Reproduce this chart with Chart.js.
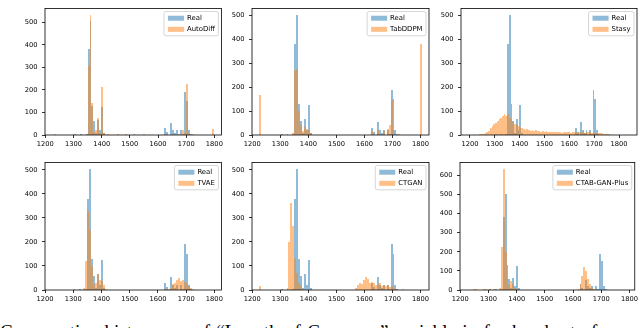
<!DOCTYPE html>
<html>
<head>
<meta charset="utf-8">
<script src="https://cdn.jsdelivr.net/npm/chart.js@4.4.1/dist/chart.umd.min.js"></script>
<style>
html,body{margin:0;padding:0;background:#fff;width:640px;height:328px;overflow:hidden;position:relative}
canvas{position:absolute}
#caption{position:absolute;left:0;top:322px;font-family:"Liberation Serif","Times New Roman",serif;font-size:19px;line-height:19px;word-spacing:1.6px;white-space:nowrap;color:#000}
</style>
</head>
<body>
<canvas id="c1"></canvas>
<canvas id="c2"></canvas>
<canvas id="c3"></canvas>
<canvas id="c4"></canvas>
<canvas id="c5"></canvas>
<canvas id="c6"></canvas>
<div id="caption">Comparative histograms of “Length of Coverage” variable in fresh subset of</div>
<script>
// ---------------- data (histogram bins: [bin left edge, count]) ----------------
const BIN_START = 1196, BIN_WIDTH = 7, BIN_COUNT = 92;

const realHist = [[1231,2],[1301,3],[1322,3],[1343,6],[1350,380],[1357,505],[1364,130],[1371,60],[1378,10],[1385,65],[1392,20],[1399,125],[1406,8],
  [1623,30],[1630,12],[1644,55],[1651,22],[1658,10],[1665,22],[1679,20],[1686,5],[1693,190],[1700,150],[1707,20],[1714,5]];

const autoDiffHist = [[1231,3],[1287,2],[1343,5],[1350,305],[1357,535],[1364,140],[1371,12],[1378,20],[1385,75],[1392,8],[1399,215],[1406,10],
  [1420,3],[1434,2],[1455,4],[1469,2],[1483,3],[1497,2],[1511,4],[1525,2],[1546,3],[1560,2],
  [1623,3],[1651,4],[1672,5],[1686,20],[1693,10],[1700,228],[1707,10],[1721,3],[1791,28]];

const tabDDPMHist = [[1224,167],[1343,10],[1350,270],[1357,275],[1364,100],[1371,40],[1378,15],[1385,35],[1392,25],[1399,20],[1406,8],
  [1623,15],[1644,20],[1665,15],[1679,25],[1686,40],[1693,145],[1700,20],[1721,5],[1798,383]];

const stasyHist = [[1231,2],[1238,3],[1245,4],[1252,6],[1259,9],[1266,14],[1273,18],[1280,28],[1287,38],[1294,45],[1301,52],[1308,58],
  [1315,66],[1322,72],[1329,80],[1336,86],[1343,78],[1350,88],[1357,72],[1364,65],[1371,55],[1378,48],[1385,42],[1392,38],[1399,32],
  [1406,30],[1413,26],[1420,22],[1427,24],[1434,20],[1441,18],[1448,21],[1455,17],[1462,19],[1469,15],[1476,18],[1483,14],[1490,16],
  [1497,13],[1504,15],[1511,12],[1518,14],[1525,11],[1532,13],[1539,12],[1546,14],[1553,11],[1560,13],[1567,10],[1574,12],[1581,13],
  [1588,11],[1595,12],[1602,10],[1609,13],[1616,11],[1623,12],[1630,10],[1637,12],[1644,11],[1651,13],[1658,10],[1665,12],[1672,11],
  [1679,13],[1686,10],[1693,12],[1700,9],[1707,10],[1714,8],[1721,7],[1728,8],[1735,6],[1742,5],[1749,4],[1756,3],[1763,2],[1770,2],
  [1784,1],[1805,1],[1819,2]];

const tvaeHist = [[1336,10],[1343,120],[1350,330],[1357,250],[1364,100],[1371,25],[1378,30],[1385,68],[1392,42],[1399,38],[1406,20],[1413,5],
  [1623,3],[1637,5],[1644,10],[1651,25],[1658,30],[1665,40],[1672,50],[1679,38],[1686,42],[1693,35],[1700,30],[1707,15],[1714,10],[1721,3]];

const ctganHist = [[1224,15],[1322,10],[1329,200],[1336,360],[1343,265],[1350,135],[1357,70],[1364,30],[1371,15],[1378,5],
  [1567,8],[1574,22],[1581,30],[1588,25],[1595,40],[1602,52],[1609,45],[1616,30],[1623,35],[1630,28],[1637,20],[1644,25],[1651,30],
  [1658,18],[1665,22],[1672,15],[1679,20],[1686,12],[1693,15],[1700,8],[1707,5],[1714,3],[1735,3]];

const ctabGanPlusHist = [[1245,4],[1252,3],[1280,5],[1287,4],[1301,3],[1315,3],[1336,10],[1343,227],[1350,636],[1357,200],[1364,60],[1371,25],
  [1378,45],[1385,30],[1392,10],[1399,5],[1616,5],[1623,30],[1630,75],[1637,120],[1644,100],[1651,60],[1658,30],[1665,12],[1672,5]];

const methodNames = ['AutoDiff','TabDDPM','Stasy','TVAE','CTGAN','CTAB-GAN-Plus'];
const methodHists = [autoDiffHist, tabDDPMHist, stasyHist, tvaeHist, ctganHist, ctabGanPlusHist];
const xTicks = [1200,1300,1400,1500,1600,1700,1800];
const yTicks500 = [0,100,200,300,400,500];
const yTicks600 = [0,100,200,300,400,500,600];
const panelYTicks = [yTicks500,yTicks500,yTicks500,yTicks500,yTicks500,yTicks600];
const panelXRange = [[1199,1825],[1199,1830],[1164,1872],[1200,1825],[1199,1830],[1199,1819]];

// ---------------- layout / style ----------------
const panelBoxes = [
  {left:0,   top:0,   w:225, h:151},
  {left:207, top:0,   w:225, h:151},
  {left:416, top:0,   w:224, h:151},
  {left:0,   top:154, w:225, h:152},
  {left:207, top:154, w:225, h:152},
  {left:415, top:154, w:225, h:152}
];
const BLUE = 'rgba(31,119,180,0.5)';
const ORANGE = 'rgba(255,127,14,0.5)';
Chart.defaults.font.family = '"DejaVu Sans", sans-serif';

function toBars(pairs){
  const counts = new Array(BIN_COUNT).fill(0);
  pairs.forEach(([edge,c]) => { counts[Math.round((edge-BIN_START)/BIN_WIDTH)] = c; });
  return counts.map((c,i) => ({x: BIN_START + (i+0.5)*BIN_WIDTH, y: c}));
}

// snap bar edges to whole pixels (like matplotlib's Agg snapping)
const snapPlugin = {
  id:'snap',
  beforeDatasetsDraw(chart){
    chart.getSortedVisibleDatasetMetas().forEach(meta => {
      meta.data.forEach(el => {
        const l = Math.round(el.x - el.width/2 + 1e-6), r = Math.round(el.x + el.width/2 + 1e-6);
        el.x = (l + r) / 2; el.width = r - l;
        el.y = Math.round(el.y); el.base = Math.round(el.base);
      });
    });
  }
};

const framePlugin = {
  id:'frame',
  afterDatasetsDraw(chart){
    const {ctx, chartArea:a} = chart;
    ctx.save();
    ctx.strokeStyle = '#000';
    ctx.lineWidth = 0.8;
    ctx.strokeRect(a.left, a.top, a.right-a.left, a.bottom-a.top);
    ctx.restore();
  }
};

const legendPlugin = {
  id:'mplLegend',
  afterDraw(chart){
    const {ctx, chartArea:a} = chart;
    const items = chart.data.datasets.map(d => ({label:d.label, color:d.backgroundColor}));
    ctx.save();
    ctx.font = '6.9px "DejaVu Sans"';
    const textW = Math.max(...items.map(i => ctx.measureText(i.label).width));
    const padL = 4, padR = 3.5, patchW = 16, gap = 3, rowH = 11.1;
    const w = padL + patchW + gap + textW + padR;
    const h = 24.3;
    const x = a.right - 3 - w, y = a.top + 3;
    ctx.beginPath();
    if (ctx.roundRect) ctx.roundRect(x, y, w, h, 2); else ctx.rect(x, y, w, h);
    ctx.fillStyle = 'rgba(255,255,255,0.8)';
    ctx.fill();
    ctx.strokeStyle = '#cccccc';
    ctx.lineWidth = 0.8;
    ctx.stroke();
    items.forEach((it,i) => {
      const cy = y + 6.7 + i*rowH;
      ctx.fillStyle = it.color;
      ctx.fillRect(x + padL, cy - 2.5, patchW, 5);
      ctx.fillStyle = '#000';
      ctx.textBaseline = 'middle';
      ctx.textAlign = 'left';
      ctx.fillText(it.label, x + padL + patchW + gap, cy + 0.3);
    });
    ctx.restore();
  }
};

methodNames.forEach((name, idx) => {
  const box = panelBoxes[idx];
  const cv = document.getElementById('c' + (idx+1));
  cv.width = box.w; cv.height = box.h;
  cv.style.left = box.left + 'px'; cv.style.top = box.top + 'px';
  cv.style.width = box.w + 'px'; cv.style.height = box.h + 'px';
  const realData = toBars(realHist);
  const synthData = toBars(methodHists[idx]);
  const maxCount = Math.max(...realData.map(d=>d.y), ...synthData.map(d=>d.y));
  const yt = panelYTicks[idx];
  const [xMin, xMax] = panelXRange[idx];
  new Chart(cv, {
    type:'bar',
    data:{datasets:[
      {label:'Real', data:realData, backgroundColor:BLUE, order:1},
      {label:name, data:synthData, backgroundColor:ORANGE, order:0}
    ]},
    options:{
      responsive:false, animation:false, events:[],
      layout:{padding:{left:0, top:2, right:3, bottom:0}},
      datasets:{bar:{grouped:false, barPercentage:1, categoryPercentage:1, borderWidth:0, inflateAmount:0}},
      plugins:{legend:{display:false}, tooltip:{enabled:false}},
      scales:{
        x:{
          type:'linear', min:xMin, max:xMax, offset:false,
          grid:{display:true, offset:false, drawOnChartArea:false, drawTicks:true, tickLength:3, tickColor:'#000', lineWidth:0.8},
          border:{display:false},
          afterBuildTicks: ax => { ax.ticks = xTicks.map(v => ({value:v})); },
          ticks:{autoSkip:false, maxRotation:0, minRotation:0, padding:2, color:'#000', font:{size:6.7}, callback: v => String(v)},
          afterFit: s => { s.height = 16; }
        },
        y:{
          type:'linear', min:0, max:maxCount*1.05,
          grid:{display:true, drawOnChartArea:false, drawTicks:true, tickLength:3, tickColor:'#000', lineWidth:0.8},
          border:{display:false},
          afterBuildTicks: ax => { ax.ticks = yt.map(v => ({value:v})); },
          ticks:{padding:4.5, color:'#000', font:{size:6.7}, callback: v => String(v)},
          afterFit: s => { s.width = 45; }
        }
      }
    },
    plugins:[snapPlugin, framePlugin, legendPlugin]
  });
});
</script>
</body>
</html>
